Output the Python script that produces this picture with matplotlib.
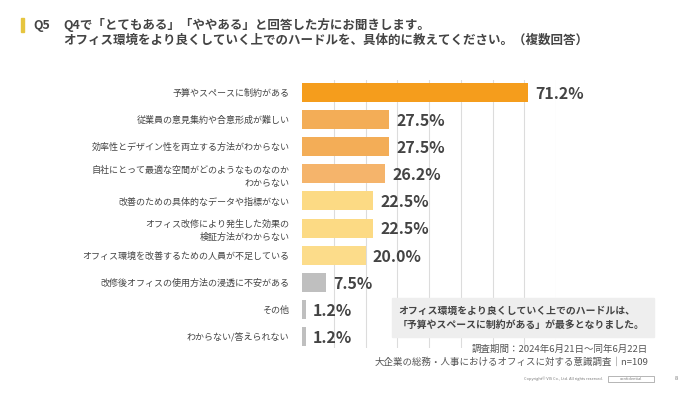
import matplotlib
matplotlib.use("Agg")
import matplotlib.pyplot as plt
from matplotlib.patches import Rectangle

plt.rcParams['font.family'] = ['Noto Sans CJK JP', 'DejaVu Sans']

categories = [
    "予算やスペースに制約がある",
    "従業員の意見集約や合意形成が難しい",
    "効率性とデザイン性を両立する方法がわからない",
    "自社にとって最適な空間がどのようなものなのか\nわからない",
    "改善のための具体的なデータや指標がない",
    "オフィス改修により発生した効果の\n検証方法がわからない",
    "オフィス環境を改善するための人員が不足している",
    "改修後オフィスの使用方法の浸透に不安がある",
    "その他",
    "わからない/答えられない",
]
values = [71.2, 27.5, 27.5, 26.2, 22.5, 22.5, 20.0, 7.5, 1.2, 1.2]
bar_colors = ["#F59D1C", "#F3AD57", "#F3AD57", "#F5B46B", "#FCDA84",
              "#FCDA84", "#FCDC8A", "#BFBFBF", "#BFBFBF", "#BFBFBF"]
grid_ticks = [10, 20, 30, 40, 50, 60, 70, 80]

title_q = "Q5"
title_line1 = "Q4で「とてもある」「ややある」と回答した方にお聞きします。"
title_line2 = "オフィス環境をより良くしていく上でのハードルを、具体的に教えてください。（複数回答）"
note_text = "オフィス環境をより良くしていく上でのハードルは、\n「予算やスペースに制約がある」が最多となりました。"
source_line1 = "調査期間：2024年6月21日～同年6月22日"
source_line2 = "大企業の総務・人事におけるオフィスに対する意識調査｜n=109"
copyright_text = "Copyright© VIS Co., Ltd. All rights reserved."

W, H = 700, 394
fig = plt.figure(figsize=(W / 100, H / 100), dpi=100)
fig.patch.set_facecolor("white")

def fx(px):
    return px / W

def fy(py):
    return 1 - py / H

# axes: x 0 -> 302px, 80 -> 556px ; y top 80px, bottom 348px
ax = fig.add_axes([fx(302), fy(348), fx(556) - fx(302), fy(80) - fy(348)])
n = len(values)
ypos = list(range(n))
ax.barh(ypos, values, height=0.70, color=bar_colors, zorder=2)
ax.set_xlim(0, 80)
ax.set_ylim(n - 1 + 0.42, -0.46)
for g in grid_ticks:
    ax.axvline(g, color="#DCDCDC", lw=0.8, zorder=1)
for s in ax.spines.values():
    s.set_visible(False)
ax.set_xticks([])
ax.set_yticks(ypos)
ax.set_yticklabels(categories, fontsize=6.5, color="#444444", linespacing=1.55)
ax.tick_params(axis="y", length=0, pad=9)

for i, v in enumerate(values):
    ax.annotate(f"{v:.1f}%", xy=(v, i), xytext=(5, -1), textcoords="offset points",
                ha="left", va="center", fontsize=11.5, fontweight="bold",
                color="#444444")

# Title
fig.patches.append(Rectangle((fx(21), fy(32)), fx(3), fy(18) - fy(32),
                             transform=fig.transFigure, color="#E6C53F"))
fig.text(fx(33), fy(25), title_q, fontsize=9, fontweight="bold", color="#444444",
         va="center", ha="left")
fig.text(fx(63), fy(25), title_line1, fontsize=9, fontweight="bold", color="#444444",
         va="center", ha="left")
fig.text(fx(63), fy(40), title_line2, fontsize=9, fontweight="bold", color="#444444",
         va="center", ha="left")

# Note box
fig.patches.append(Rectangle((fx(392), fy(337)), fx(654) - fx(392), fy(298) - fy(337),
                             transform=fig.transFigure, color="#EEEEEE", zorder=3))
fig.text(fx(398), fy(318), note_text, fontsize=7.1, fontweight="bold", color="#444444",
         va="center", ha="left", linespacing=1.45, zorder=4)

# Source
fig.text(fx(648), fy(349), source_line1, fontsize=6.8, color="#555555",
         va="center", ha="right")
fig.text(fx(648), fy(362), source_line2, fontsize=6.8, color="#555555",
         va="center", ha="right")

# Footer
fig.text(fx(603), fy(379), copyright_text, fontsize=2.8, color="#777777",
         va="center", ha="right")
fig.patches.append(Rectangle((fx(608), fy(382)), fx(654) - fx(608), fy(376) - fy(382),
                             transform=fig.transFigure, fill=False, ec="#999999", lw=0.5))
fig.text(fx(631), fy(379), "confidential", fontsize=2.8, color="#777777",
         va="center", ha="center")
fig.text(fx(676), fy(379), "8", fontsize=4, color="#777777", va="center", ha="center")

fig.savefig("out.png", dpi=100, facecolor="white")
